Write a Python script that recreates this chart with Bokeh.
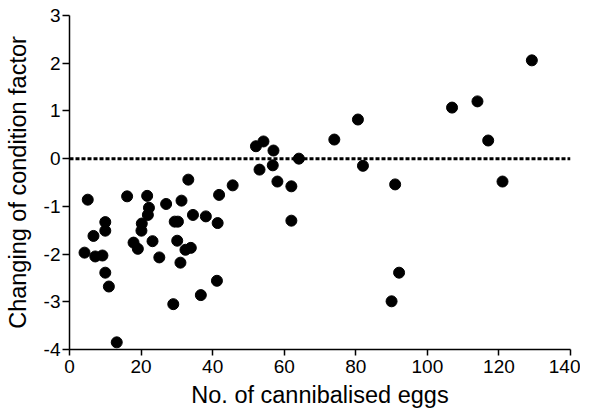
from bokeh.plotting import figure
from bokeh.models import Span, Range1d, FixedTicker
from bokeh.embed import file_html
from bokeh.resources import INLINE

eggs = [4.2, 5.1, 6.7, 7.2, 9.2, 10.0, 10.0, 10.0, 11.0, 13.2,
        16.1, 17.9, 19.1, 20.2, 20.1, 21.7, 22.2, 21.9, 23.2, 25.1,
        27.0, 29.0, 29.4, 30.3, 30.1, 31.3, 31.0, 32.4, 33.9, 33.2,
        34.5, 36.7, 38.1, 41.2, 41.4, 41.8, 45.6, 52.1, 54.2, 53.1,
        57.0, 56.8, 58.1, 62.0, 62.0, 64.1, 74.0, 80.6, 82.0, 91.0,
        92.1, 90.0, 106.9, 114.0, 117.0, 121.0, 129.2]
condition = [-1.97, -0.86, -1.62, -2.05, -2.03, -1.33, -1.51, -2.39, -2.68, -3.85,
             -0.79, -1.76, -1.89, -1.36, -1.51, -0.78, -1.03, -1.18, -1.73, -2.07,
             -0.95, -3.05, -1.32, -1.32, -1.72, -0.88, -2.18, -1.91, -1.87, -0.44,
             -1.18, -2.86, -1.21, -2.56, -1.35, -0.76, -0.56, 0.26, 0.36, -0.23,
             0.17, -0.14, -0.48, -0.58, -1.30, 0.0, 0.40, 0.82, -0.15, -0.54,
             -2.39, -2.99, 1.07, 1.20, 0.38, -0.48, 2.06]
x_ticks = [0, 20, 40, 60, 80, 100, 120, 140]
y_ticks = [-4, -3, -2, -1, 0, 1, 2, 3]

FONT = "Liberation Sans"

p = figure(output_backend="svg", toolbar_location=None,
           frame_width=501, frame_height=334,
           min_border_left=69, min_border_right=10,
           min_border_top=15, min_border_bottom=57,
           x_range=Range1d(0, 140), y_range=Range1d(-4, 3))
p.outline_line_color = None
p.xgrid.visible = False
p.ygrid.visible = False
p.background_fill_color = "white"
p.border_fill_color = "white"

p.add_layout(Span(location=0, dimension="width", line_color="black",
                  line_width=3, line_dash="4 2"))

p.scatter(eggs, condition, size=11, color="black")

p.xaxis.ticker = FixedTicker(ticks=x_ticks)
p.yaxis.ticker = FixedTicker(ticks=y_ticks)
p.yaxis.major_label_overrides = {t: str(t) for t in y_ticks}
for ax in (p.xaxis, p.yaxis):
    ax.minor_tick_line_color = None
    ax.axis_line_width = 1.5
    ax.major_tick_line_width = 1.5
    ax.major_tick_in = 0
    ax.major_label_text_font = FONT
    ax.major_label_text_font_size = "19px"
    ax.major_label_text_color = "black"
    ax.axis_label_text_font = FONT
    ax.axis_label_text_font_size = "23.5px"
    ax.axis_label_text_font_style = "normal"
    ax.axis_label_text_color = "black"
p.xaxis.major_tick_out = 6
p.yaxis.major_tick_out = 7
p.xaxis.major_label_standoff = 4
p.yaxis.major_label_standoff = 2
p.xaxis.axis_label = "No. of cannibalised eggs"
p.yaxis.axis_label = "Changing of condition factor"
p.xaxis.axis_label_standoff = 6
p.yaxis.axis_label_standoff = 10

open("out.html", "w").write(file_html(p, INLINE))
